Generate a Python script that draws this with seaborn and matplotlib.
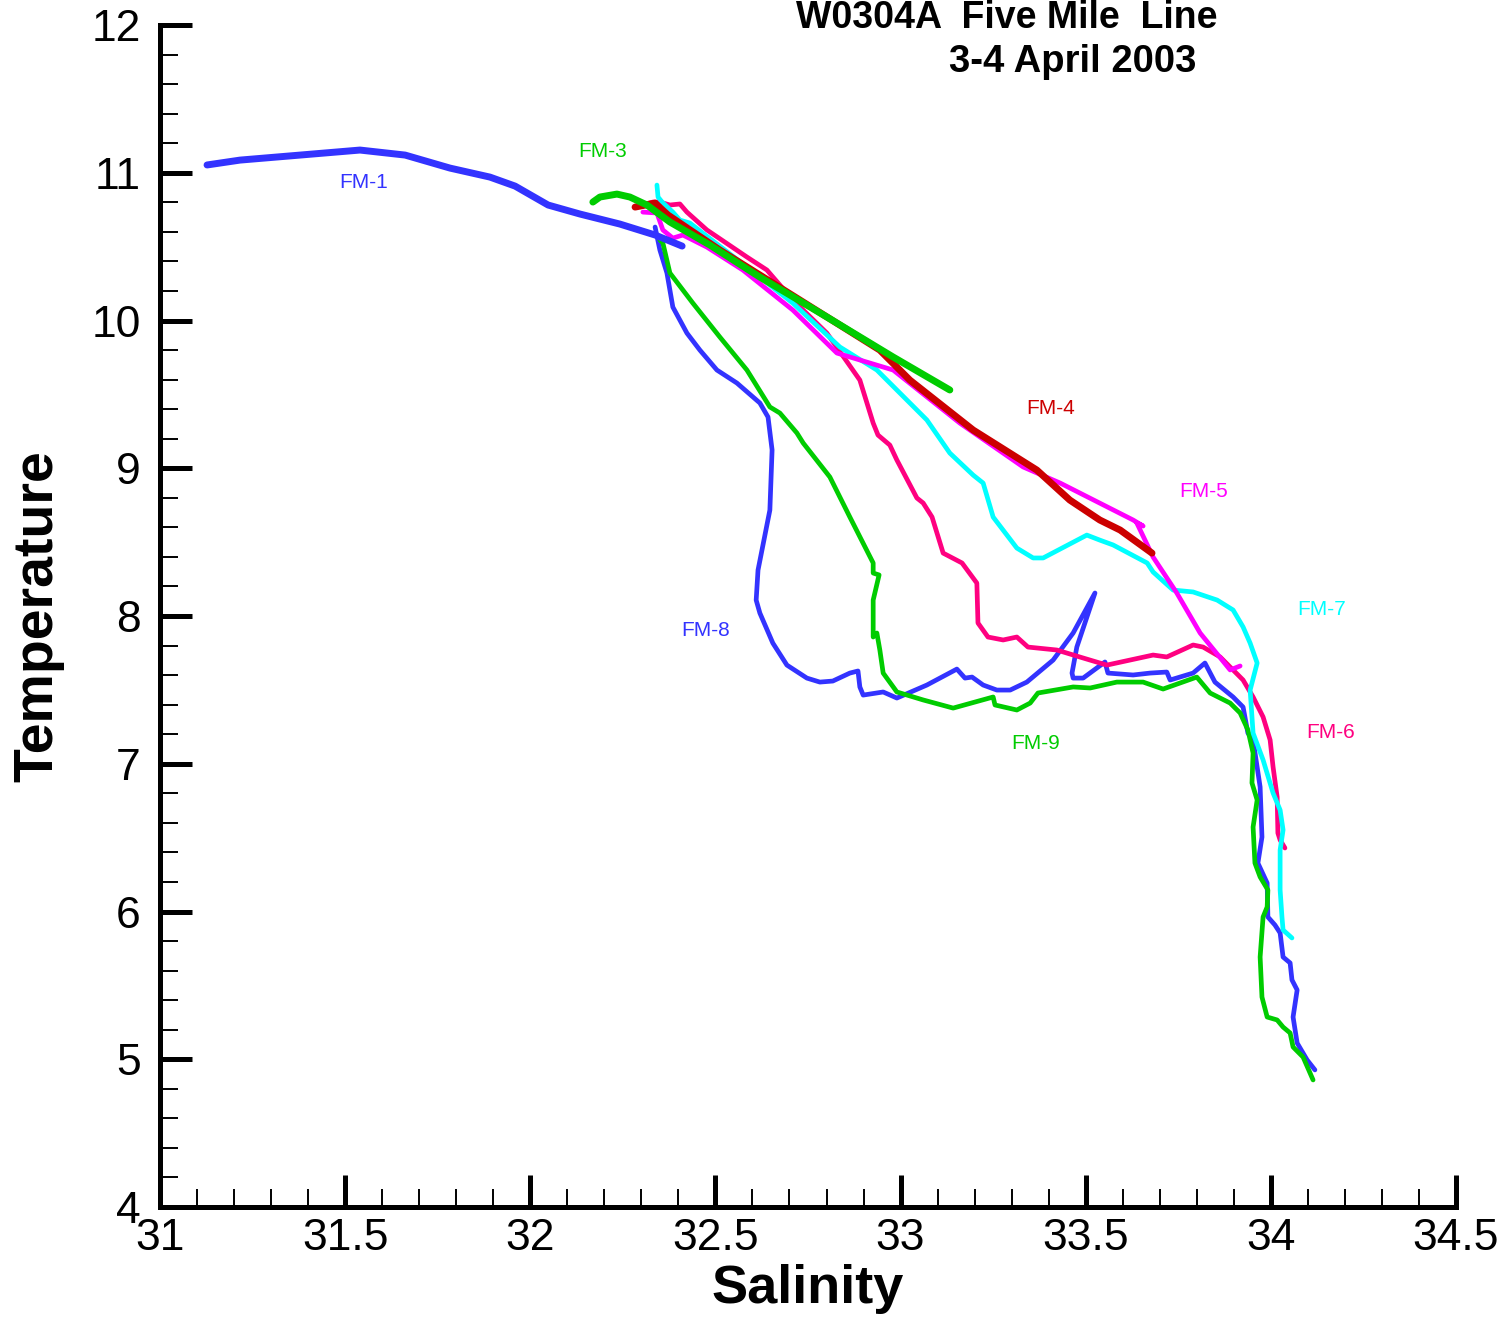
import pandas as pd
import matplotlib
matplotlib.use("Agg")
import matplotlib.pyplot as plt
import seaborn as sns
from matplotlib.ticker import MultipleLocator

# === DATA (salinity, temperature) ===
fm1_sal = [31.127, 31.216, 31.378, 31.540, 31.662, 31.783, 31.891, 31.959, 32.048, 32.134, 32.242, 32.337, 32.410]
fm1_tmp = [11.053, 11.086, 11.120, 11.154, 11.120, 11.032, 10.971, 10.910, 10.782, 10.721, 10.653, 10.579, 10.504]

fm3_sal = [32.169, 32.188, 32.234, 32.269, 32.315, 32.377, 32.485, 32.620, 32.801, 32.980, 33.133]
fm3_tmp = [10.802, 10.836, 10.856, 10.836, 10.782, 10.667, 10.511, 10.294, 10.024, 9.753, 9.530]

fm4_sal = [32.283, 32.337, 32.372, 32.512, 32.728, 32.944, 33.025, 33.196, 33.368, 33.457, 33.538, 33.593, 33.679]
fm4_tmp = [10.768, 10.795, 10.714, 10.477, 10.139, 9.800, 9.597, 9.259, 8.988, 8.785, 8.650, 8.582, 8.426]

fm5_sal = [32.304, 32.342, 32.358, 32.385, 32.412, 32.477, 32.574, 32.709, 32.828, 32.890, 32.980, 33.160,
           33.331, 33.431, 33.628, 33.655, 33.638, 33.682, 33.746, 33.809, 33.890, 33.917]
fm5_tmp = [10.734, 10.728, 10.613, 10.558, 10.579, 10.497, 10.342, 10.071, 9.780, 9.733, 9.665, 9.306,
           9.009, 8.900, 8.650, 8.609, 8.630, 8.399, 8.156, 7.885, 7.635, 7.662]

fm6_sal = [32.283, 32.331, 32.350, 32.377, 32.404, 32.423, 32.477, 32.585, 32.639, 32.709, 32.801, 32.871,
           32.890, 32.926, 32.939, 32.971, 32.990, 33.044, 33.061, 33.085, 33.115, 33.166, 33.206, 33.209,
           33.236, 33.277, 33.314, 33.344, 33.422, 33.493, 33.557, 33.682, 33.719, 33.790, 33.817, 33.863,
           33.925, 33.952, 33.979, 33.998, 34.006, 34.017, 34.019, 34.025, 34.038]
fm6_tmp = [10.768, 10.802, 10.802, 10.782, 10.789, 10.734, 10.613, 10.430, 10.342, 10.139, 9.915, 9.665,
           9.597, 9.306, 9.225, 9.157, 9.056, 8.799, 8.765, 8.670, 8.426, 8.359, 8.223, 7.953,
           7.858, 7.838, 7.858, 7.790, 7.770, 7.716, 7.668, 7.736, 7.723, 7.804, 7.790, 7.723,
           7.567, 7.452, 7.317, 7.161, 6.978, 6.775, 6.531, 6.484, 6.430]

fm7_sal = [32.342, 32.345, 32.356, 32.385, 32.404, 32.431, 32.466, 32.585, 32.709, 32.836, 32.936, 33.071,
           33.133, 33.196, 33.223, 33.250, 33.314, 33.358, 33.385, 33.503, 33.538, 33.574, 33.666, 33.682,
           33.736, 33.790, 33.855, 33.898, 33.925, 33.944, 33.963, 33.944, 33.952, 33.979, 34.006, 34.025,
           34.033, 34.025, 34.025, 34.030, 34.033, 34.057]
fm7_tmp = [10.917, 10.836, 10.802, 10.734, 10.680, 10.660, 10.592, 10.362, 10.118, 9.821, 9.665, 9.327,
           9.103, 8.954, 8.900, 8.670, 8.460, 8.393, 8.393, 8.548, 8.514, 8.481, 8.359, 8.298,
           8.176, 8.163, 8.108, 8.041, 7.926, 7.817, 7.682, 7.499, 7.208, 7.026, 6.802, 6.687,
           6.552, 6.416, 6.146, 5.963, 5.875, 5.821]

fm8_sal = [32.337, 32.350, 32.369, 32.385, 32.423, 32.458, 32.504, 32.558, 32.620, 32.642, 32.653, 32.647,
           32.615, 32.610, 32.620, 32.655, 32.693, 32.747, 32.782, 32.817, 32.863, 32.885, 32.890, 32.899,
           32.953, 32.990, 33.071, 33.152, 33.174, 33.193, 33.223, 33.260, 33.296, 33.341, 33.412, 33.466,
           33.525, 33.476, 33.463, 33.466, 33.493, 33.552, 33.560, 33.628, 33.674, 33.719, 33.728, 33.790,
           33.822, 33.849, 33.898, 33.925, 33.938, 33.952, 33.971, 33.976, 33.965, 33.990, 33.992, 34.011,
           34.025, 34.033, 34.052, 34.057, 34.071, 34.060, 34.071, 34.098, 34.119]
fm8_tmp = [10.633, 10.477, 10.322, 10.091, 9.915, 9.800, 9.665, 9.577, 9.442, 9.347, 9.124, 8.717,
           8.311, 8.108, 8.020, 7.817, 7.668, 7.580, 7.553, 7.560, 7.614, 7.628, 7.520, 7.465,
           7.486, 7.445, 7.533, 7.641, 7.580, 7.587, 7.533, 7.499, 7.499, 7.553, 7.702, 7.885,
           8.156, 7.790, 7.614, 7.580, 7.580, 7.689, 7.614, 7.601, 7.614, 7.621, 7.567, 7.614,
           7.682, 7.553, 7.452, 7.384, 7.208, 7.161, 6.843, 6.504, 6.328, 6.193, 5.963, 5.909,
           5.855, 5.692, 5.652, 5.537, 5.469, 5.286, 5.110, 4.995, 4.928]

fm9_sal = [32.350, 32.358, 32.377, 32.439, 32.512, 32.585, 32.647, 32.674, 32.720, 32.737, 32.809, 32.863,
           32.926, 32.926, 32.942, 32.926, 32.926, 32.936, 32.944, 32.953, 32.990, 33.061, 33.142, 33.250,
           33.255, 33.314, 33.350, 33.371, 33.466, 33.512, 33.584, 33.655, 33.709, 33.800, 33.836, 33.890,
           33.917, 33.938, 33.952, 33.949, 33.963, 33.952, 33.957, 33.971, 33.992, 33.990, 33.979, 33.971,
           33.976, 33.990, 34.017, 34.033, 34.052, 34.060, 34.087, 34.114]
fm9_tmp = [10.545, 10.525, 10.322, 10.118, 9.888, 9.665, 9.415, 9.374, 9.239, 9.171, 8.941, 8.670,
           8.359, 8.291, 8.278, 8.108, 7.858, 7.885, 7.770, 7.614, 7.486, 7.432, 7.377, 7.452,
           7.398, 7.364, 7.411, 7.479, 7.520, 7.513, 7.553, 7.553, 7.506, 7.587, 7.479, 7.411,
           7.344, 7.229, 7.073, 6.870, 6.755, 6.572, 6.328, 6.234, 6.146, 6.031, 5.963, 5.692,
           5.421, 5.286, 5.266, 5.218, 5.178, 5.083, 5.015, 4.860]

stations = ["FM-1", "FM-3", "FM-4", "FM-5", "FM-6", "FM-7", "FM-8", "FM-9"]
sal_lists = [fm1_sal, fm3_sal, fm4_sal, fm5_sal, fm6_sal, fm7_sal, fm8_sal, fm9_sal]
tmp_lists = [fm1_tmp, fm3_tmp, fm4_tmp, fm5_tmp, fm6_tmp, fm7_tmp, fm8_tmp, fm9_tmp]

# label anchors (salinity, temperature)
label_sal = [31.551, 32.194, 33.404, 33.819, 34.162, 34.137, 32.474, 33.366]
label_tmp = [10.937, 11.147, 9.408, 8.846, 7.215, 8.047, 7.899, 7.134]

colors = {"FM-1": "#3333ff", "FM-3": "#00cc00", "FM-4": "#cc0000", "FM-5": "#ff00ff",
          "FM-6": "#ff0080", "FM-7": "#00ffff", "FM-8": "#3333ff", "FM-9": "#00cc00"}
widths = {"FM-1": 5.0, "FM-3": 5.0, "FM-4": 5.0, "FM-5": 3.4,
          "FM-6": 3.4, "FM-7": 3.4, "FM-8": 3.4, "FM-9": 3.4}
draw_order = ["FM-8", "FM-9", "FM-6", "FM-7", "FM-5", "FM-4", "FM-3", "FM-1"]

# === BUILD TABLE ===
rows = []
for name, s, t in zip(stations, sal_lists, tmp_lists):
    for i, (a, b) in enumerate(zip(s, t)):
        rows.append({"station": name, "order": i, "Salinity": a, "Temperature": b})
df = pd.DataFrame(rows)

# === PLOT ===
sns.set_style("ticks")
plt.rcParams["font.family"] = ["Liberation Sans", "DejaVu Sans"]
plt.rcParams["text.color"] = "black"
plt.rcParams["axes.labelcolor"] = "black"

fig = plt.figure(figsize=(15.11, 13.19), dpi=100)
ax = fig.add_axes([0.1059, 0.0849, 0.8577, 0.8961])

for name in draw_order:
    sub = df[df["station"] == name]
    sns.lineplot(data=sub, x="Salinity", y="Temperature", sort=False, estimator=None,
                 color=colors[name], linewidth=widths[name], ax=ax,
                 solid_capstyle="round", solid_joinstyle="round")

for name, lx, ly in zip(stations, label_sal, label_tmp):
    ax.text(lx, ly, name, color=colors[name], fontsize=15, ha="center", va="center")

ax.set_xlim(31, 34.5)
ax.set_ylim(4, 12)
ax.xaxis.set_minor_locator(MultipleLocator(0.1))
ax.yaxis.set_major_locator(MultipleLocator(1))
ax.yaxis.set_minor_locator(MultipleLocator(0.2))
ax.set_xticks([31, 31.5, 32, 32.5, 33, 33.5, 34, 34.5])
ax.set_xticklabels(["31", "31.5", "32", "32.5", "33", "33.5", "34", "34.5"])

sns.despine(ax=ax)
for side in ["left", "bottom"]:
    ax.spines[side].set_linewidth(3.6)
    ax.spines[side].set_color("black")

ax.tick_params(which="major", direction="in", length=23, width=3.6, labelsize=32,
               colors="black")
ax.tick_params(axis="y", which="major", pad=14)
ax.tick_params(axis="x", which="major", pad=8)
ax.tick_params(which="minor", direction="in", length=13, width=1.4, colors="black")

ax.set_xlabel("Salinity", fontsize=39, fontweight="bold")
ax.set_ylabel("Temperature", fontsize=40, fontweight="bold")
ax.xaxis.set_label_coords(0.5, -0.048)
ax.yaxis.set_label_coords(-0.074, 0.5)

ax.text(0.6535, 1.006, "W0304A  Five Mile  Line", transform=ax.transAxes,
        fontsize=27, fontweight="bold", ha="center", va="center")
ax.text(0.7045, 0.9687, "3-4 April 2003", transform=ax.transAxes,
        fontsize=27.5, fontweight="bold", ha="center", va="center")

ax.grid(False)
fig.savefig("out.png", dpi=100, facecolor="white")
